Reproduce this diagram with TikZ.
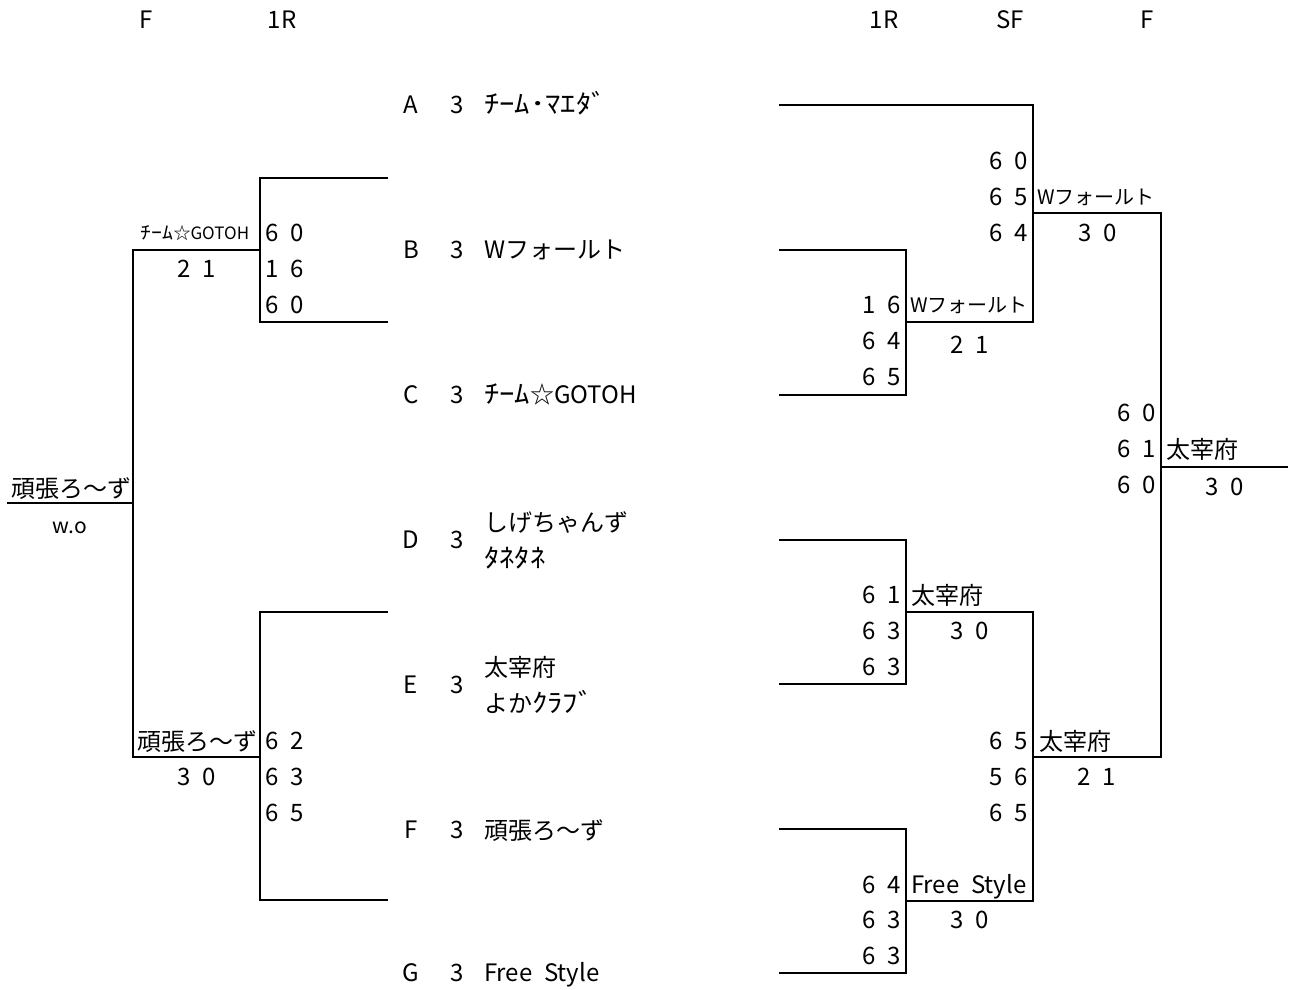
\documentclass[tikz,border=0pt]{standalone}
\usepackage{graphicx}
\usepackage{fontspec}
\setmainfont{Noto Sans CJK JP}[WordSpace=2.2]
\newcommand\hwk[1]{\scalebox{1.28}[1.08]{#1}}
\begin{document}
\begin{tikzpicture}[x=1pt,y=-1pt,
  every node/.style={inner sep=0pt,outer sep=0pt},
  txt/.style={font=\fontsize{24}{28}\selectfont},
  sml/.style={font=\fontsize{20}{24}\selectfont},
  tiny/.style={font=\fontsize{17}{20}\selectfont},
  wo/.style={font=\fontsize{21}{24}\selectfont},
  bline/.style={draw=black,line width=1.1pt}]
\useasboundingbox (0,0) rectangle (1291,989);
% ---------- coordinates of the brackets ----------
% left side
\coordinate (l1a) at (388,178); \coordinate (l1b) at (260,178);
\coordinate (l1c) at (260,322); \coordinate (l1d) at (388,322);
\coordinate (l1w) at (260,250); \coordinate (l1v) at (133,250);
\coordinate (l2a) at (388,612); \coordinate (l2b) at (260,612);
\coordinate (l2c) at (260,900); \coordinate (l2d) at (388,900);
\coordinate (l2w) at (260,757); \coordinate (l2v) at (133,757);
\coordinate (lfa) at (133,503); \coordinate (lfb) at (7,503);
% right side
\coordinate (rAa) at (779,105); \coordinate (rAb) at (1033,105);
\coordinate (rAc) at (1033,322); \coordinate (rAd) at (906,322);
\coordinate (rBa) at (779,250); \coordinate (rBb) at (906,250);
\coordinate (rBc) at (906,395); \coordinate (rBd) at (779,395);
\coordinate (rSa) at (1033,213); \coordinate (rSb) at (1161,213);
\coordinate (rSc) at (1161,757); \coordinate (rSd) at (1033,757);
\coordinate (rFa) at (1161,467); \coordinate (rFb) at (1288,467);
\coordinate (rDa) at (779,540); \coordinate (rDb) at (906,540);
\coordinate (rDc) at (906,684); \coordinate (rDd) at (779,684);
\coordinate (rEa) at (906,612); \coordinate (rEb) at (1033,612);
\coordinate (rEc) at (1033,901); \coordinate (rEd) at (906,901);
\coordinate (rGa) at (779,829); \coordinate (rGb) at (906,829);
\coordinate (rGc) at (906,973); \coordinate (rGd) at (779,973);
% ---------- lines ----------
\draw[bline] (l1a) -- (l1b) -- (l1c) -- (l1d);
\draw[bline] (l2a) -- (l2b) -- (l2c) -- (l2d);
\draw[bline] (l1w) -- (l1v) -- (l2v) -- (l2w);
\draw[bline] (lfa) -- (lfb);
\draw[bline] (rAa) -- (rAb) -- (rAc) -- (rAd);
\draw[bline] (rBa) -- (rBb) -- (rBc) -- (rBd);
\draw[bline] (rSa) -- (rSb) -- (rSc) -- (rSd);
\draw[bline] (rFa) -- (rFb);
\draw[bline] (rDa) -- (rDb) -- (rDc) -- (rDd);
\draw[bline] (rEa) -- (rEb) -- (rEc) -- (rEd);
\draw[bline] (rGa) -- (rGb) -- (rGc) -- (rGd);
% ---------- headers ----------
\node[txt,anchor=base] (h1) at (146,28) {F};
\node[txt,anchor=base] (h2) at (282,28) {1R};
\node[txt,anchor=base] (h3) at (884,28) {1R};
\node[txt,anchor=base] (h4) at (1010,28) {SF};
\node[txt,anchor=base] (h5) at (1147,28) {F};
% ---------- centre entries ----------
\node[txt,anchor=base] (kA) at (411,113) {A};
\node[txt,anchor=base] (kB) at (411,258) {B};
\node[txt,anchor=base] (kC) at (411,403) {C};
\node[txt,anchor=base] (kD) at (411,548) {D};
\node[txt,anchor=base] (kE) at (411,693) {E};
\node[txt,anchor=base] (kF) at (411,838) {F};
\node[txt,anchor=base] (kG) at (411,981) {G};
\node[txt,anchor=base] (nA) at (457,113) {3};
\node[txt,anchor=base] (nB) at (457,258) {3};
\node[txt,anchor=base] (nC) at (457,403) {3};
\node[txt,anchor=base] (nD) at (457,548) {3};
\node[txt,anchor=base] (nE) at (457,693) {3};
\node[txt,anchor=base] (nF) at (457,838) {3};
\node[txt,anchor=base] (nG) at (457,981) {3};
\node[txt,anchor=base west] (tA) at (484,113) {\hwk{ﾁｰﾑ･ﾏｴﾀﾞ}};
\node[txt,anchor=base west] (tB) at (484,258) {Wフォールト};
\node[txt,anchor=base west] (tC) at (484,403) {\hwk{ﾁｰﾑ}☆GOTOH};
\node[txt,anchor=base west] (tD1) at (484,531) {しげちゃんず};
\node[txt,anchor=base west] (tD2) at (484,567) {\hwk{ﾀﾈﾀﾈ}};
\node[txt,anchor=base west] (tE1) at (484,676) {太宰府};
\node[txt,anchor=base west] (tE2) at (484,712) {よか\hwk{ｸﾗﾌﾞ}};
\node[txt,anchor=base west] (tF) at (484,839) {頑張ろ〜ず};
\node[txt,anchor=base west] (tG) at (484,981) {Free Style};
% ---------- left side labels ----------
\node[tiny,anchor=base] (lw1) at (195,239) {\hwk{ﾁｰﾑ}☆GOTOH};
\node[txt,anchor=base] (lr1) at (197,277) {2 1};
\node[txt,anchor=base west] (ls11) at (265,241) {6 0};
\node[txt,anchor=base west] (ls12) at (265,277) {1 6};
\node[txt,anchor=base west] (ls13) at (265,313) {6 0};
\node[txt,anchor=base west] (lfw) at (12,497) {頑張ろ〜ず};
\node[wo,anchor=base] (lfr) at (70,533) {w.o};
\node[txt,anchor=base west] (lw2) at (137,750) {頑張ろ〜ず};
\node[txt,anchor=base] (lr2) at (197,785) {3 0};
\node[txt,anchor=base west] (ls21) at (265,749) {6 2};
\node[txt,anchor=base west] (ls22) at (265,785) {6 3};
\node[txt,anchor=base west] (ls23) at (265,821) {6 5};
% ---------- right side labels ----------
% SF top
\node[txt,anchor=base east] (rs11) at (1028,169) {6 0};
\node[txt,anchor=base east] (rs12) at (1028,205) {6 5};
\node[txt,anchor=base east] (rs13) at (1028,241) {6 4};
\node[sml,anchor=base west] (rw1) at (1037,204) {Wフォールト};
\node[txt,anchor=base] (rr1) at (1098,241) {3 0};
% 1R B-C
\node[txt,anchor=base east] (rs21) at (901,313) {1 6};
\node[txt,anchor=base east] (rs22) at (901,349) {6 4};
\node[txt,anchor=base east] (rs23) at (901,385) {6 5};
\node[sml,anchor=base west] (rw2) at (910,312) {Wフォールト};
\node[txt,anchor=base] (rr2) at (970,353) {2 1};
% final
\node[txt,anchor=base east] (rs31) at (1156,421) {6 0};
\node[txt,anchor=base east] (rs32) at (1156,457) {6 1};
\node[txt,anchor=base east] (rs33) at (1156,493) {6 0};
\node[txt,anchor=base west] (rw3) at (1166,458) {太宰府};
\node[txt,anchor=base] (rr3) at (1225,495) {3 0};
% 1R D-E
\node[txt,anchor=base east] (rs41) at (901,603) {6 1};
\node[txt,anchor=base east] (rs42) at (901,639) {6 3};
\node[txt,anchor=base east] (rs43) at (901,675) {6 3};
\node[txt,anchor=base west] (rw4) at (911,604) {太宰府};
\node[txt,anchor=base] (rr4) at (970,639) {3 0};
% SF bottom
\node[txt,anchor=base east] (rs51) at (1028,749) {6 5};
\node[txt,anchor=base east] (rs52) at (1028,785) {5 6};
\node[txt,anchor=base east] (rs53) at (1028,821) {6 5};
\node[txt,anchor=base west] (rw5) at (1039,750) {太宰府};
\node[txt,anchor=base] (rr5) at (1097,785) {2 1};
% 1R F-G
\node[txt,anchor=base east] (rs61) at (901,893) {6 4};
\node[txt,anchor=base east] (rs62) at (901,928) {6 3};
\node[txt,anchor=base east] (rs63) at (901,964) {6 3};
\node[txt,anchor=base west] (rw6) at (911,893) {Free Style};
\node[txt,anchor=base] (rr6) at (970,928) {3 0};
\end{tikzpicture}
\end{document}
